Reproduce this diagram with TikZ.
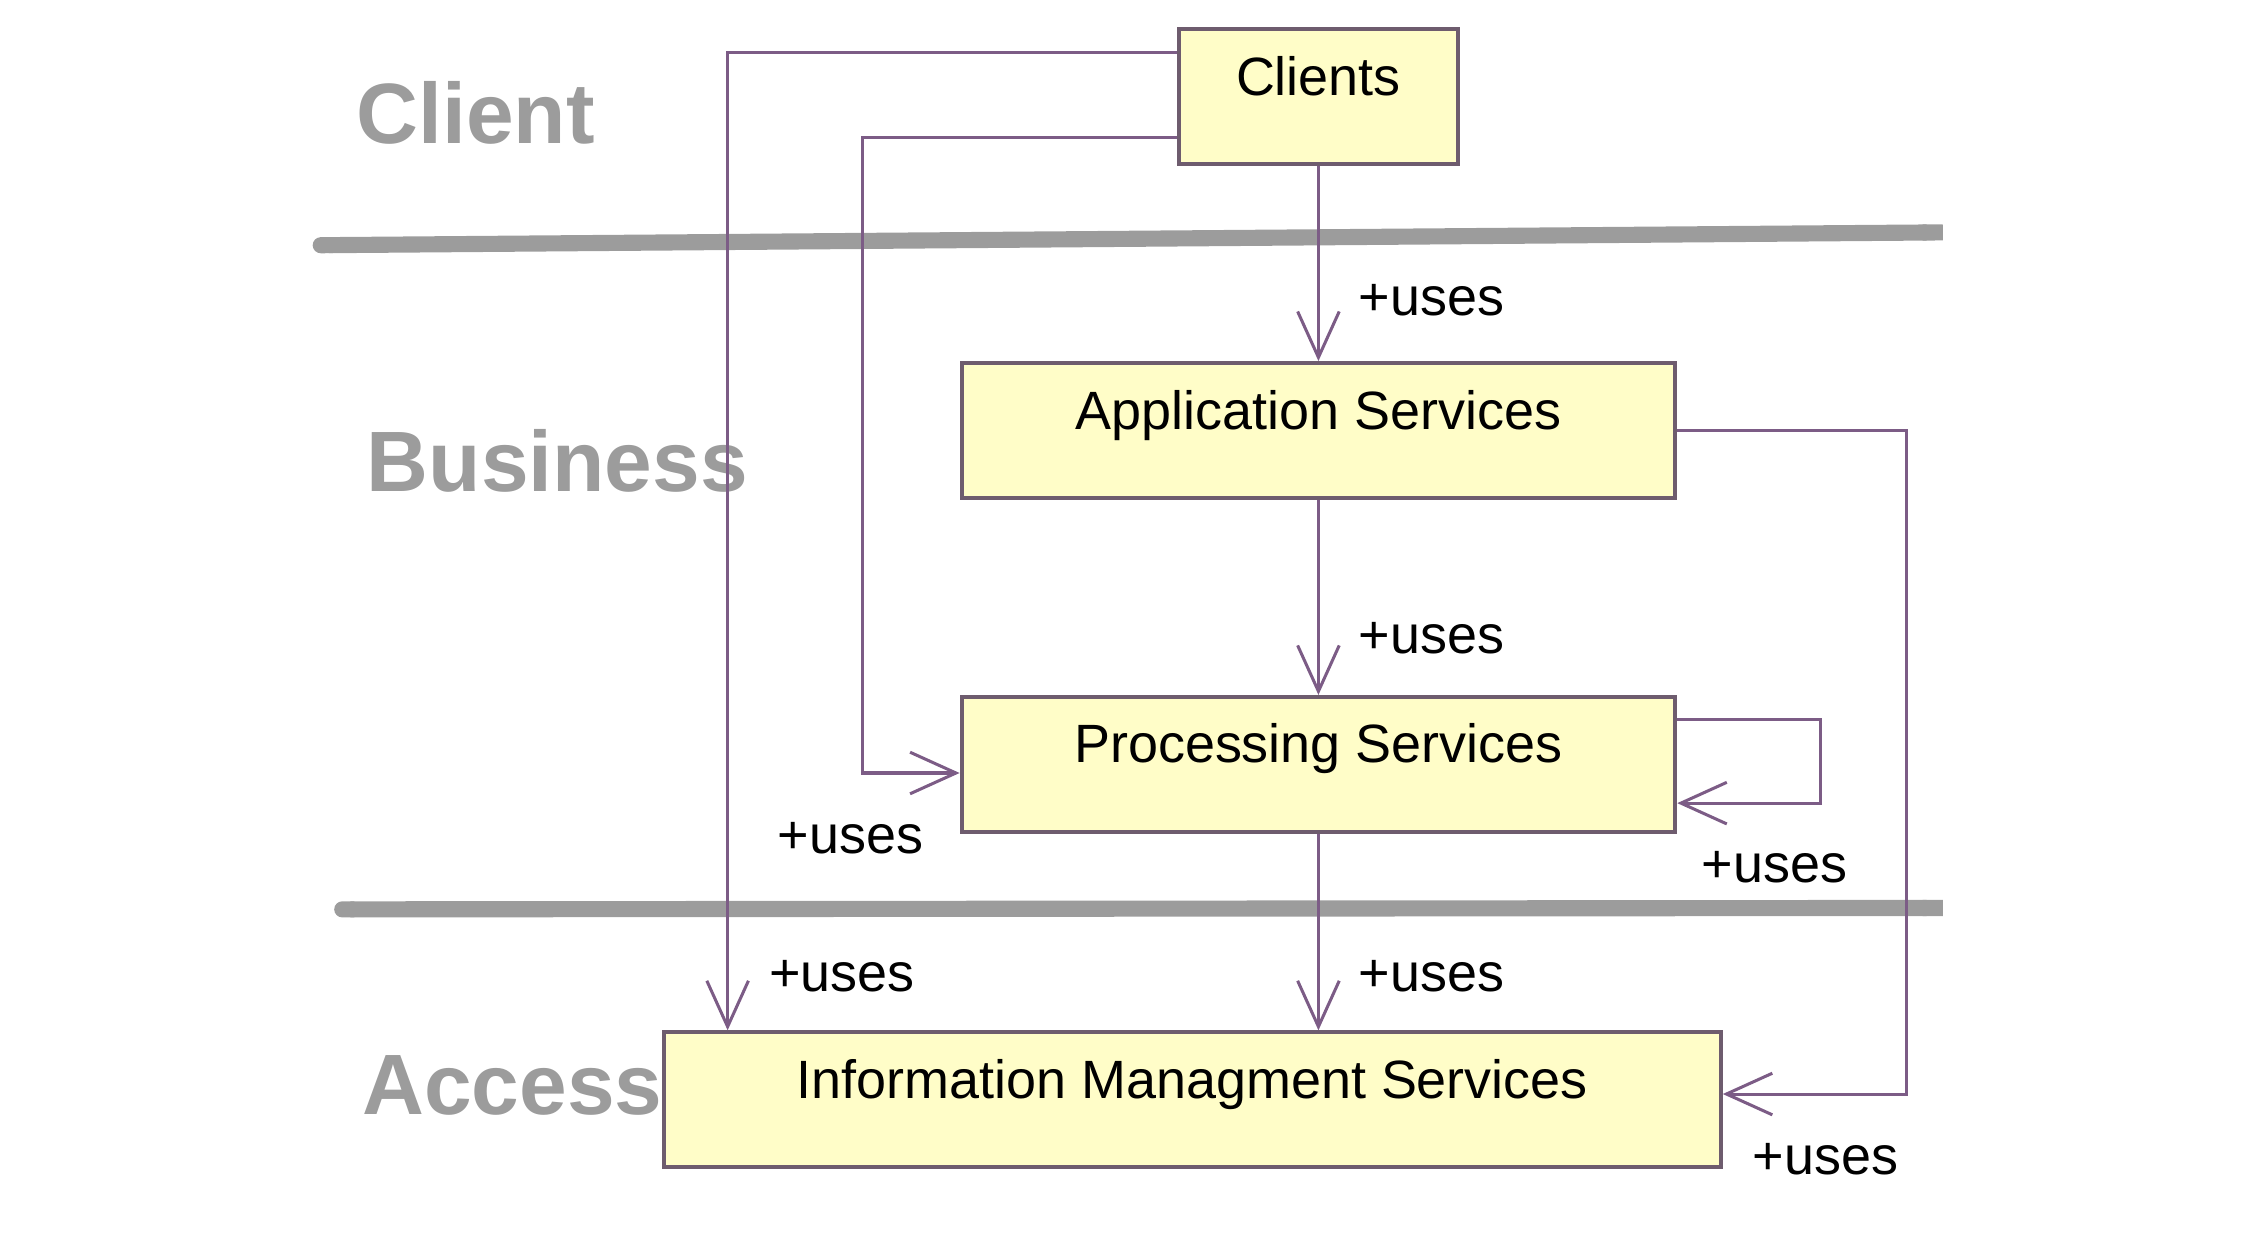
\documentclass[tikz,border=0pt]{standalone}
\usepackage{fontspec}
\setmainfont{Liberation Sans}
\usepackage{tikz}
\usetikzlibrary{arrows.meta}
\usetikzlibrary{positioning}
\definecolor{boxfill}{HTML}{FFFDC8}
\definecolor{boxline}{HTML}{6E5C6E}
\definecolor{usecol}{HTML}{7C5C86}
\definecolor{tiergray}{HTML}{9C9C9C}
\tikzstyle{box}=[draw=boxline, fill=boxfill, line width=0.8pt, inner xsep=0,
                inner ysep=0, text height=0.46cm, text depth=0.48cm,
                font=\fontsize{10.7}{13}\selectfont]
\tikzstyle{uses}=[draw=usecol, line width=0.6pt,
                -{Straight Barb[length=3.2mm,width=2.9mm]}]
\tikzstyle{lbl}=[anchor=base west, inner sep=0, text=black,
                font=\fontsize{10.7}{13}\selectfont]
\tikzstyle{tier}=[anchor=base west, inner sep=0, text=tiergray,
                font=\fontsize{17}{20}\selectfont\bfseries]
\tikzstyle{sep}=[draw=tiergray, line width=3.2pt, {Round Cap}-{Butt Cap}]

\begin{document}
\begin{tikzpicture}
\useasboundingbox (0,0) rectangle (15.68,-8.74);

% tiers
\draw[sep] (2.18,-1.71) -- (13.545,-1.62);
\draw[sep] (2.33,-6.34) -- (13.545,-6.33);
\node[tier] (tclient) at (2.48,-1.00) {Client};
\node[tier] (tbusiness) at (2.55,-3.43) {Business};
\node[tier] (taccess) at (2.52,-7.77) {Access};

% boxes
\node[box, minimum width=1.945cm] at (9.192,-0.673) (clients) {Clients};
\node[box, minimum width=4.975cm, below = 1.36cm of clients] (app) {Application Services};
\node[box, minimum width=4.975cm, below = 1.36cm of app] (proc) {Processing Services};
\node[box, minimum width=7.37cm, below = 1.37cm of proc, xshift=-0.88cm] (info) {Information Managment Services};

% uses
\draw[uses] (clients.south) -- (app.north)
  node[lbl, pos=1, xshift=0.27cm, yshift=0.32cm] (u1) {+uses};
\draw[uses] (app.south) -- (proc.north)
  node[lbl, pos=1, xshift=0.27cm, yshift=0.29cm] (u2) {+uses};
\draw[uses] (proc.south) -- (proc.south |- info.north)
  node[lbl, pos=1, xshift=0.27cm, yshift=0.27cm] (u3) {+uses};
\draw[uses] ([yshift=-0.18cm]clients.north west) -| ([xshift=0.46cm]info.north west)
  node[lbl, pos=1, xshift=0.28cm, yshift=0.27cm] (u4) {+uses};
\draw[uses] ([yshift=0.2cm]clients.south west) -| ([xshift=-0.68cm,yshift=-0.06cm]proc.west)
  -- ([yshift=-0.06cm]proc.west)
  node[lbl, pos=1, xshift=-1.28cm, yshift=-0.56cm] (u5) {+uses};
\draw[uses] ([yshift=0.31cm]proc.east) -- ++(1.0,0) |- ([yshift=-0.27cm]proc.east)
  node[lbl, pos=1, xshift=0.16cm, yshift=-0.55cm] (u6) {+uses};
\draw[uses] (app.east) -- ++(1.60,0) |- ([yshift=0.04cm]info.east)
  node[lbl, pos=1, xshift=0.2cm, yshift=-0.56cm] (u7) {+uses};
\end{tikzpicture}
\end{document}
